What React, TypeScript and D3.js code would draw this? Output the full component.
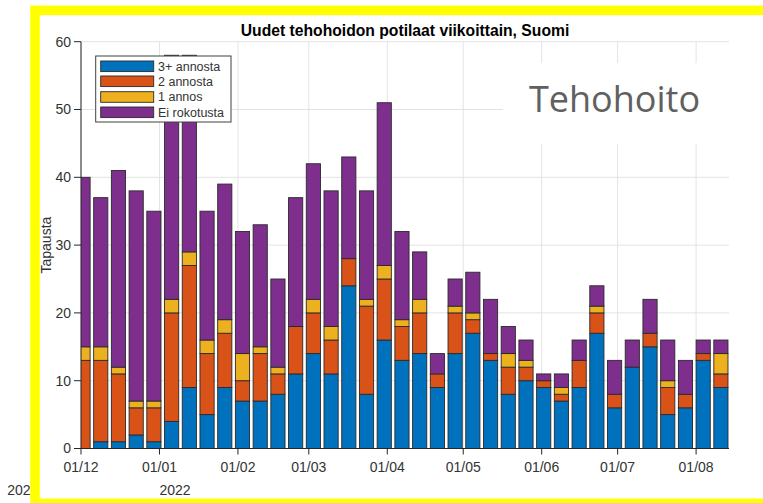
import React from "react";
import * as d3 from "d3";

const title = "Uudet tehohoidon potilaat viikoittain, Suomi";
const yLabel = "Tapausta";
const stampText = "Tehohoito";
const seriesNames = ["3+ annosta", "2 annosta", "1 annos", "Ei rokotusta"];
const seriesColors = ["#0072BD", "#D95319", "#EDB120", "#7E2F8E"];

// weekly values, first week starting at 01/12/2021
const dose3 = [0, 1, 1, 2, 1, 4, 9, 5, 9, 7, 7, 8, 11, 14, 11, 24, 8, 16, 13, 14, 9, 14, 17, 13, 8, 10, 9, 7, 9, 17, 6, 12, 15, 5, 6, 13, 9];
const dose2 = [13, 12, 10, 4, 5, 16, 18, 9, 8, 3, 7, 3, 7, 6, 5, 4, 13, 9, 5, 6, 2, 6, 2, 1, 4, 2, 1, 1, 4, 3, 2, 0, 2, 4, 2, 1, 2];
const dose1 = [2, 2, 1, 1, 1, 2, 2, 2, 2, 4, 1, 1, 0, 2, 2, 0, 1, 2, 1, 2, 0, 1, 1, 0, 2, 1, 0, 1, 0, 1, 0, 0, 0, 1, 0, 0, 3];
const unvacc = [25, 22, 29, 31, 28, 36, 29, 19, 20, 18, 18, 13, 19, 20, 20, 15, 16, 24, 13, 7, 3, 4, 6, 8, 4, 3, 1, 2, 3, 3, 5, 4, 5, 6, 5, 2, 2];

const xTickLabels = ["01/12", "01/01", "01/02", "01/03", "01/04", "01/05", "01/06", "01/07", "01/08"];
const yTicks = [0, 10, 20, 30, 40, 50, 60];

const DAY = 86400000;
const start = Date.UTC(2021, 11, 1);

export default function App() {
  const W = 763, H = 503;
  const left = 81, right = 729, top = 41.7, bottom = 448.5;
  const x = d3.scaleUtc().domain([new Date(start), new Date(Date.UTC(2022, 7, 14))]).range([left, right]);
  const y = d3.scaleLinear().domain([0, 60]).range([bottom, top]);

  const rows = dose3.map((v, i) => ({
    date: new Date(start + (7 * i + 0.8) * DAY),
    s0: v, s1: dose2[i], s2: dose1[i], s3: unvacc[i],
  }));
  const stack = d3.stack<any>().keys(["s0", "s1", "s2", "s3"])(rows);
  const barW = x(new Date(start + 5.6 * DAY)) - x(new Date(start));

  const tickDates = xTickLabels.map((_, i) => new Date(Date.UTC(2021, 11 + i, 1)));
  const txt = "#333333";
  const font = "'Liberation Sans', Arial, sans-serif";

  return (
    <svg width={W} height={H} style={{ position: "absolute", left: 0, top: 0, background: "#fff" }} fontFamily={font}>
      <rect x={0} y={0} width={W} height={H} fill="#fff" />
      <defs>
        <clipPath id="plotclip">
          <rect x={left} y={0} width={right - left} height={bottom} />
        </clipPath>
      </defs>
      {/* grid */}
      {yTicks.map((t) => (
        <line key={"gy" + t} x1={left} x2={right} y1={y(t)} y2={y(t)} stroke="#e3e3e3" strokeWidth={1} />
      ))}
      {tickDates.map((d, i) => (
        <line key={"gx" + i} x1={x(d)} x2={x(d)} y1={top} y2={bottom} stroke="#e3e3e3" strokeWidth={1} />
      ))}
      {/* bars */}
      <g clipPath="url(#plotclip)">
        {stack.map((layer, si) =>
          layer.map((seg, i) => {
            const h = y(seg[0]) - y(seg[1]);
            if (h <= 0) return null;
            const cx = x(rows[i].date);
            return (
              <rect key={si + "-" + i} x={cx - barW / 2} y={y(seg[1])} width={barW} height={h}
                fill={seriesColors[si]} stroke="#2a2a2a" strokeWidth={0.9} />
            );
          })
        )}
      </g>
      {/* axes */}
      <line x1={left} x2={left} y1={top} y2={bottom} stroke="#262626" strokeWidth={1} />
      <line x1={left} x2={right} y1={bottom} y2={bottom} stroke="#262626" strokeWidth={1} />
      {yTicks.map((t) => (
        <g key={"yt" + t}>
          <line x1={left - 7} x2={left} y1={y(t)} y2={y(t)} stroke="#262626" />
          <text x={71} y={y(t)} dy="0.35em" textAnchor="end" fontSize={14} fill={txt}>{t}</text>
        </g>
      ))}
      {tickDates.map((d, i) => (
        <g key={"xt" + i}>
          <line x1={x(d)} x2={x(d)} y1={bottom} y2={bottom + 6} stroke="#262626" />
          <text x={x(d)} y={472} textAnchor="middle" fontSize={14} fill={txt}>{xTickLabels[i]}</text>
        </g>
      ))}
      <text x={x(tickDates[1])} y={495} fontSize={14} fill={txt}>2022</text>
      <text x={7.3} y={495} fontSize={14} fill={txt}>2021</text>
      {/* y label */}
      <text transform={`translate(51,${(top + bottom) / 2}) rotate(-90)`} textAnchor="middle" fontSize={14} fill={txt}>{yLabel}</text>
      {/* title */}
      <text x={(left + right) / 2} y={36} textAnchor="middle" fontSize={15.7} fontWeight="bold" fill="#000">{title}</text>
      {/* Tehohoito box */}
      <rect x={503} y={63} width={260} height={81} fill="#fff" />
      <text x={529} y={111.7} fontFamily="'Open Sans', sans-serif" fontSize={36} fill="#606060">{stampText}</text>
      {/* legend */}
      <rect x={95.7} y={56} width={135.3} height={66} fill="#fff" stroke="#404040" strokeWidth={1} />
      {seriesNames.map((n, i) => {
        const cy = [66.3, 81.3, 97, 112.3][i];
        return (
          <g key={"lg" + i}>
            <rect x={100.7} y={cy - 5.3} width={53} height={10.6} fill={seriesColors[i]} stroke="#2a2a2a" strokeWidth={0.9} />
            <text x={158} y={cy} dy="0.35em" fontSize={12.5} fill={txt}>{n}</text>
          </g>
        );
      })}
      {/* yellow frame */}
      <rect x={35} y={10.35} width={740} height={493} fill="none" stroke="#FFFF00" strokeWidth={9.6} />
    </svg>
  );
}
